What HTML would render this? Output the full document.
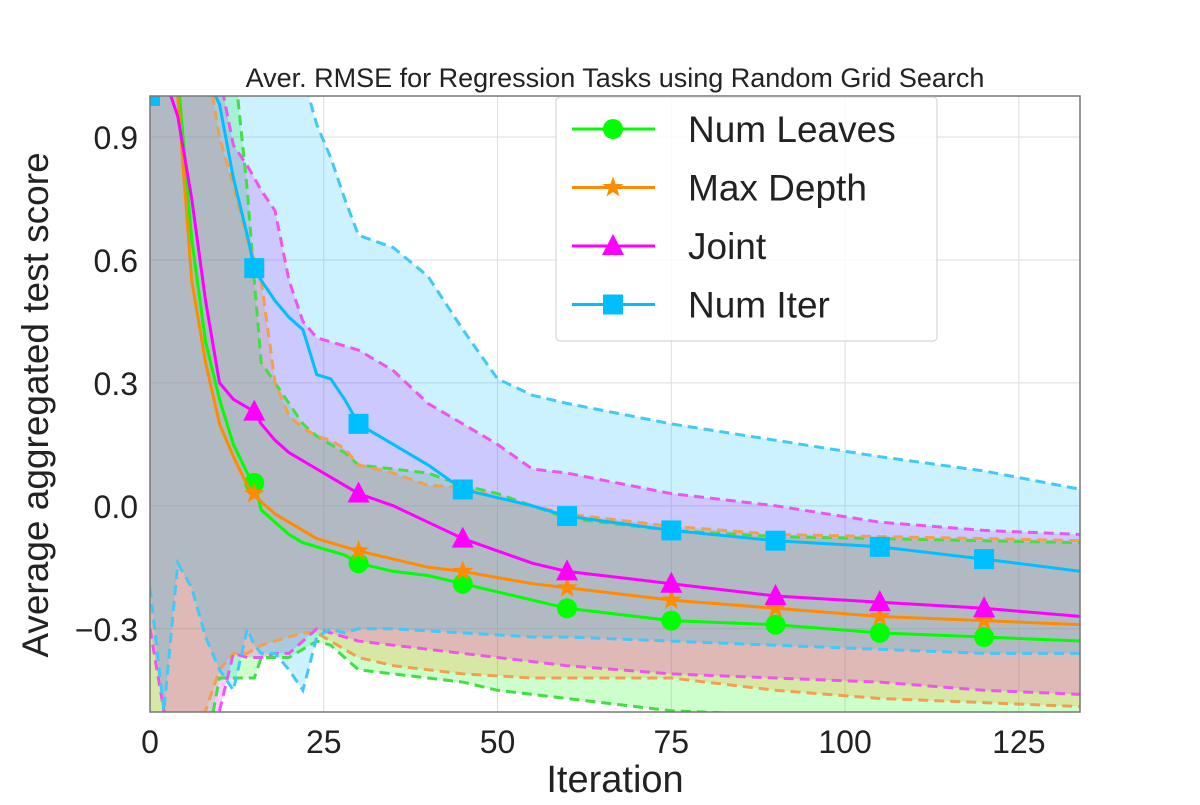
<!DOCTYPE html>
<html><head><meta charset="utf-8"><style>
body{margin:0;background:#fff;font-family:"Liberation Sans",sans-serif}
svg text{font-family:"Liberation Sans",sans-serif;fill:#222}
</style></head><body>
<svg width="1200" height="800" xmlns="http://www.w3.org/2000/svg">
<defs><clipPath id="clip"><rect x="150" y="96" width="930" height="616"/></clipPath></defs>
<g id="grid"></g>
<g id="bands" clip-path="url(#clip)"></g>
<g id="lines" clip-path="url(#clip)"></g>
<rect x="150" y="96" width="930" height="616" fill="none" stroke="#777" stroke-width="1.5"/>
<g id="ticks"></g>
<text x="615" y="87" font-size="27" text-anchor="middle">Aver. RMSE for Regression Tasks using Random Grid Search</text>
<text x="615" y="792" font-size="38" text-anchor="middle">Iteration</text>
<text transform="translate(48,405) rotate(-90)" font-size="37" text-anchor="middle">Average aggregated test score</text>
<g id="legend"></g>
</svg>
<script>
const iters=[0,2,4,6,8,10,12,14,15,16,18,20,22,24,26,28,30,35,40,45,50,55,60,75,90,105,120,134];
const leavesMean=[1.1,1.1,1.05,0.65,0.4,0.26,0.15,0.08,0.056,-0.01,-0.04,-0.07,-0.09,-0.1,-0.11,-0.12,-0.14,-0.16,-0.17,-0.19,-0.21,-0.23,-0.25,-0.28,-0.29,-0.31,-0.32,-0.33];
const leavesUp=[1.1,1.1,1.1,1.1,1.1,1.1,1.1,0.77,0.55,0.35,0.3,0.25,0.2,0.17,0.15,0.13,0.1,0.09,0.08,0.05,0.03,0.0,-0.03,-0.06,-0.075,-0.08,-0.085,-0.09];
const leavesLo=[-0.6,-0.6,-0.6,-0.6,-0.6,-0.42,-0.42,-0.42,-0.42,-0.37,-0.37,-0.37,-0.35,-0.33,-0.34,-0.37,-0.4,-0.41,-0.42,-0.43,-0.45,-0.46,-0.47,-0.5,-0.51,-0.52,-0.52,-0.53];
const depthMean=[1.1,1.1,1.0,0.55,0.35,0.2,0.12,0.05,0.03,0.01,-0.02,-0.04,-0.06,-0.08,-0.09,-0.1,-0.11,-0.13,-0.15,-0.16,-0.175,-0.19,-0.2,-0.23,-0.25,-0.27,-0.28,-0.29];
const depthUp=[1.1,1.1,1.1,1.1,1.1,0.9,0.78,0.65,0.6,0.55,0.3,0.22,0.19,0.17,0.16,0.14,0.1,0.08,0.05,0.045,0.02,0.0,-0.02,-0.05,-0.07,-0.075,-0.08,-0.085];
const depthLo=[-0.6,-0.6,-0.6,-0.6,-0.5,-0.4,-0.36,-0.36,-0.35,-0.34,-0.33,-0.32,-0.31,-0.31,-0.33,-0.35,-0.37,-0.39,-0.4,-0.41,-0.415,-0.42,-0.42,-0.42,-0.45,-0.47,-0.48,-0.49];
const jointMean=[1.1,1.05,0.95,0.75,0.5,0.3,0.26,0.24,0.23,0.2,0.16,0.13,0.11,0.09,0.07,0.05,0.03,0.0,-0.04,-0.08,-0.11,-0.14,-0.16,-0.19,-0.22,-0.235,-0.25,-0.27];
const jointUp=[1.1,1.1,1.1,1.1,1.1,1.05,0.88,0.83,0.8,0.77,0.72,0.55,0.45,0.41,0.4,0.39,0.38,0.33,0.25,0.2,0.15,0.09,0.08,0.03,0.0,-0.04,-0.06,-0.07];
const jointLo=[-0.3,-0.5,-0.55,-0.55,-0.55,-0.5,-0.36,-0.37,-0.37,-0.37,-0.36,-0.36,-0.33,-0.3,-0.31,-0.32,-0.33,-0.34,-0.35,-0.36,-0.37,-0.38,-0.39,-0.41,-0.42,-0.43,-0.45,-0.46];
const iterMean=[1.0,1.05,1.05,1.05,1.05,0.98,0.8,0.66,0.58,0.55,0.5,0.46,0.43,0.32,0.31,0.26,0.2,0.15,0.1,0.04,0.02,0.0,-0.025,-0.06,-0.085,-0.1,-0.13,-0.16];
const iterUp=[1.1,1.1,1.1,1.1,1.1,1.1,1.1,1.1,1.1,1.1,1.1,1.1,1.05,0.93,0.85,0.75,0.66,0.63,0.56,0.43,0.31,0.27,0.25,0.2,0.16,0.12,0.085,0.04];
const iterLo=[-0.2,-0.5,-0.14,-0.2,-0.32,-0.4,-0.45,-0.3,-0.34,-0.36,-0.36,-0.4,-0.45,-0.32,-0.3,-0.31,-0.3,-0.3,-0.305,-0.31,-0.315,-0.32,-0.32,-0.33,-0.34,-0.35,-0.36,-0.36];
const xTicks=[0,25,50,75,100,125];
const yTicks=[-0.3,0.0,0.3,0.6,0.9];
const markerIters=[0,15,30,45,60,75,90,105,120];
const seriesNames=["Num Leaves","Max Depth","Joint","Num Iter"];

const NS="http://www.w3.org/2000/svg";
const X=v=>150+(v/133.8)*930;
const Y=v=>712-(v+0.503)/1.503*616;
function mk(tag,attrs,parent){const e=document.createElementNS(NS,tag);for(const k in attrs)e.setAttribute(k,attrs[k]);parent.appendChild(e);return e;}
function interp(arr,t){for(let i=0;i<iters.length-1;i++){if(t>=iters[i]&&t<=iters[i+1]){const f=(t-iters[i])/(iters[i+1]-iters[i]);return arr[i]+f*(arr[i+1]-arr[i]);}}return arr[arr.length-1];}
function pts(arr){return iters.map((t,i)=>X(t).toFixed(1)+","+Y(arr[i]).toFixed(1)).join(" ");}

const grid=document.getElementById('grid'),ticks=document.getElementById('ticks');
xTicks.forEach(t=>{
 const l=mk('line',{x1:X(t),x2:X(t),y1:96,y2:712,stroke:'#ddd','stroke-width':1},grid);
 
 
 const tx=mk('text',{x:X(t),y:753,'font-size':32,'text-anchor':'middle'},ticks);tx.textContent=t;
 
 
});
yTicks.forEach(t=>{
 const l=mk('line',{x1:150,x2:1080,y1:Y(t),y2:Y(t),stroke:'#ddd','stroke-width':1},grid);
 
 
 const tx=mk('text',{x:138,y:Y(t)+12,'font-size':32,'text-anchor':'end'},ticks);tx.textContent=(t<0?"\u2212"+Math.abs(t).toFixed(1):t.toFixed(1));
 
 
});

const series=[
 {m:leavesMean,u:leavesUp,l:leavesLo,c:'#00ff00',dc:'#44dd44',mark:'circle'},
 {m:depthMean,u:depthUp,l:depthLo,c:'#ff8c00',dc:'#f0a050',mark:'star'},
 {m:jointMean,u:jointUp,l:jointLo,c:'#ff00ff',dc:'#ee55ee',mark:'tri'},
 {m:iterMean,u:iterUp,l:iterLo,c:'#00bfff',dc:'#44c8f5',mark:'sq'}];
const bands=document.getElementById('bands'),lines=document.getElementById('lines');
function marker(type,x,y,c,parent,size){
 let e;const s=size||1;
 if(type=='circle')e=mk('circle',{cx:x,cy:y,r:10*s,fill:c},parent);
 else if(type=='sq')e=mk('rect',{x:x-10*s,y:y-10*s,width:20*s,height:20*s,fill:c},parent);
 else if(type=='tri')e=mk('polygon',{points:`${x},${y-12*s} ${x-11*s},${y+9*s} ${x+11*s},${y+9*s}`,fill:c},parent);
 else{let p=[];for(let i=0;i<10;i++){const r=i%2?4.5*s:11*s;const a=-Math.PI/2+i*Math.PI/5;p.push((x+r*Math.cos(a)).toFixed(1)+","+(y+r*Math.sin(a)).toFixed(1));}e=mk('polygon',{points:p.join(" "),fill:c},parent);}
 return e;
}
series.forEach((s,k)=>{
 const poly=pts(s.u)+" "+iters.slice().reverse().map((t,i)=>X(t).toFixed(1)+","+Y(s.l[iters.length-1-i]).toFixed(1)).join(" ");
 const f=mk('polygon',{points:poly,fill:s.c,'fill-opacity':0.2},bands);
 
 
});
series.forEach(s=>{
 [s.u,s.l].forEach(a=>{
  const d=mk('polyline',{points:pts(a),fill:'none',stroke:s.dc,'stroke-width':3,'stroke-dasharray':'10,6'},bands);
  
  
 });
});
series.forEach((s,k)=>{
 const l=mk('polyline',{points:pts(s.m),fill:'none',stroke:s.c,'stroke-width':3},lines);
 
 
 markerIters.forEach(t=>{
  const e=marker(s.mark,X(t),Y(interp(s.m,t)),s.c,lines);
  
  
 });
});
const lg=document.getElementById('legend');
const box=mk('rect',{x:556,y:97,width:381,height:244,rx:4,fill:'#fff','fill-opacity':0.85,stroke:'#ccc'},lg);


series.forEach((s,k)=>{
 const y=129+k*58.5;
 const g=mk('g',{},lg);
 
 
 mk('line',{x1:572,x2:655,y1:y,y2:y,stroke:s.c,'stroke-width':3},g);
 marker(s.mark,613,y,s.c,g,1);
 const t=mk('text',{x:688,y:y+13,'font-size':37},g);t.textContent=seriesNames[k];
});
</script>
</body></html>
